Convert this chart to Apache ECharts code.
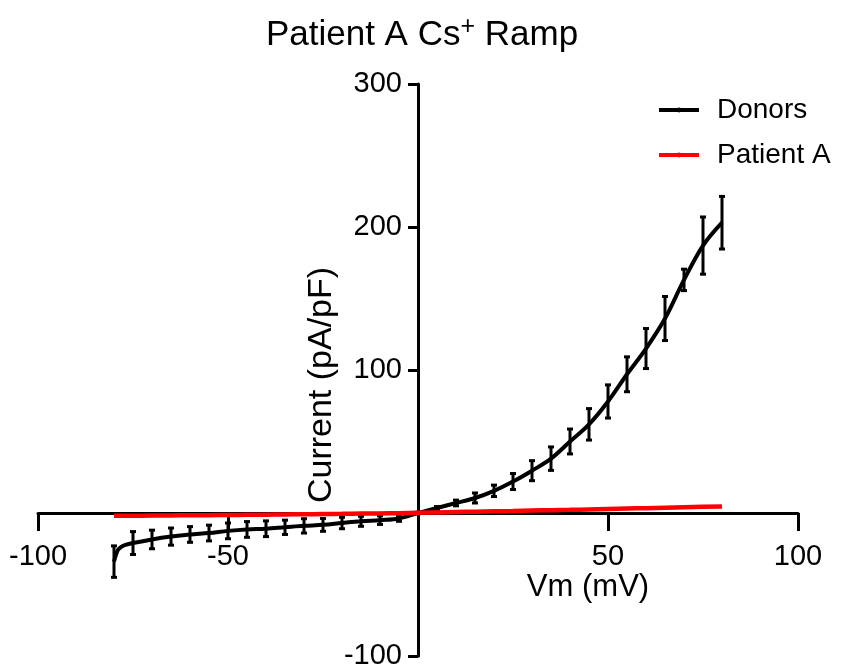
<!DOCTYPE html>
<html>
<head>
<meta charset="utf-8">
<script src="https://cdn.jsdelivr.net/npm/echarts@6/dist/echarts.min.js"></script>
<style>
html,body{margin:0;padding:0;background:#fff;}
#chart{width:844px;height:669px;}
</style>
</head>
<body>
<div id="chart"></div>
<script>
// Data (Vm in mV, current in pA/pF)
const donorsLineX = [-80, -79, -78, -77, -75, -70, -65, -60, -55, -50, -45, -40, -35, -30, -25, -20, -15, -10, -5, 0, 5, 10, 15, 20, 25, 30, 35, 40, 45, 50, 55, 60, 65, 70, 75, 80];
const donorsLineY = [-34, -26, -23.5, -22.3, -21, -18.5, -16.5, -15, -14, -12.5, -11.5, -11, -10, -9, -8.3, -7, -5.8, -5, -3.8, 0, 3.5, 7, 10.5, 15.5, 22, 29.6, 38, 50, 62, 78, 97, 115, 136, 163, 187, 203];
const errX = [-80, -75, -70, -65, -60, -55, -50, -45, -40, -35, -30, -25, -20, -15, -10, -5, 0, 5, 10, 15, 20, 25, 30, 35, 40, 45, 50, 55, 60, 65, 70, 75, 80];
const errMean = [-34, -21, -18.5, -16.5, -15, -14, -12.5, -11.5, -11, -10, -9, -8.3, -7, -5.8, -5, -3.8, 0, 3.5, 7, 10.5, 15.5, 22, 29.6, 38, 50, 62, 78, 97, 115, 136, 163, 187, 203];
const errSem = [11, 8, 6.5, 6, 5.5, 5.5, 5.5, 5.5, 5.5, 5, 5, 4.5, 4, 3.5, 3, 2, 0.5, 1, 2, 3.5, 4, 5.6, 7, 8.2, 8.7, 11, 11.6, 12.2, 14, 15.4, 7.5, 20, 18.4];
const patientX = [-80, -75, -70, -65, -60, -55, -50, -45, -40, -35, -30, -25, -20, -15, -10, -5, 0, 5, 10, 15, 20, 25, 30, 35, 40, 45, 50, 55, 60, 65, 70, 75, 80];
const patientY = [-2.0, -1.9, -1.8, -1.7, -1.6, -1.5, -1.4, -1.3, -1.2, -1.0, -0.9, -0.7, -0.6, -0.4, -0.3, -0.1, 0.2, 0.4, 0.7, 0.9, 1.2, 1.4, 1.7, 2.0, 2.2, 2.5, 2.8, 3.1, 3.4, 3.7, 4.0, 4.3, 4.6];
const xTicks = {min: -100, max: 100, interval: 50};
const yTicks = {min: -100, max: 300, interval: 100};
const seriesNames = ['Donors', 'Patient A'];
const titleText = 'Patient A Cs';
const xName = 'Vm (mV)';
const yName = 'Current (pA/pF)';

const FONT = "'Liberation Sans', Arial, Helvetica, sans-serif";
const chart = echarts.init(document.getElementById('chart'), null, {renderer: 'canvas'});

const donorsLine = donorsLineX.map((x, i) => [x, donorsLineY[i]]);
const errData = errX.map((x, i) => [x, errMean[i] - errSem[i], errMean[i] + errSem[i]]);
const patient = patientX.map((x, i) => [x, patientY[i]]);

const zeroHidden = v => (v === 0 ? '' : String(v));

// grid geometry
const G = { left: 38, right: 46, top: 84, bottom: 13 };
const plotW = 844 - G.left - G.right;   // 760
const plotH = 669 - G.top - G.bottom;   // 572
// shift axes so they cross at the origin
const yAxisShift = -plotW * (0 - xTicks.min) / (xTicks.max - xTicks.min);
const xAxisShift = -plotH * (0 - yTicks.min) / (yTicks.max - yTicks.min);

chart.setOption({
  animation: false,
  backgroundColor: '#fff',
  title: {
    text: titleText + '{sup|+} Ramp',
    left: 'center',
    top: 10,
    textStyle: {
      fontFamily: FONT, fontSize: 35, fontWeight: 'normal', color: '#000',
      rich: { sup: { fontFamily: FONT, fontSize: 25, color: '#000', verticalAlign: 'top', padding: [0, 0, 16, 0] } }
    }
  },
  legend: {
    orient: 'vertical',
    left: 652,
    top: 91,
    itemWidth: 40,
    itemHeight: 6,
    itemGap: 17,
    data: seriesNames,
    lineStyle: { width: 4 },
    textStyle: { fontFamily: FONT, fontSize: 28, color: '#000', padding: [0, 0, 0, 13] }
  },
  grid: { left: G.left, right: G.right, top: G.top, bottom: G.bottom, containLabel: false, outerBoundsMode: 'none' },
  xAxis: {
    type: 'value',
    position: 'bottom',
    offset: xAxisShift,
    min: xTicks.min, max: xTicks.max, interval: xTicks.interval,
    axisLine: { onZero: false, lineStyle: { color: '#000', width: 3 } },
    axisTick: { show: true, length: 18, lineStyle: { color: '#000', width: 3 } },
    axisLabel: { formatter: zeroHidden, fontFamily: FONT, fontSize: 29, color: '#000', margin: 29 },
    splitLine: { show: false }
  },
  yAxis: {
    type: 'value',
    position: 'left',
    offset: yAxisShift,
    min: yTicks.min, max: yTicks.max, interval: yTicks.interval,
    axisLine: { onZero: false, lineStyle: { color: '#000', width: 3 } },
    axisTick: { show: true, length: 10, lineStyle: { color: '#000', width: 3 } },
    axisLabel: { formatter: zeroHidden, fontFamily: FONT, fontSize: 29, color: '#000', margin: 16 },
    splitLine: { show: false }
  },
  graphic: [
    { type: 'text', x: 322, y: 385, rotation: Math.PI / 2,
      style: { text: yName, fontFamily: FONT, fontSize: 34, fill: '#000', textAlign: 'center', textVerticalAlign: 'middle' } },
    { type: 'text', x: 588, y: 587,
      style: { text: xName, fontFamily: FONT, fontSize: 31, fill: '#000', textAlign: 'center', textVerticalAlign: 'middle' } }
  ],
  series: [
    {
      name: 'Donors', type: 'line', data: donorsLine,
      smooth: 0.35, showSymbol: false, symbol: 'circle', symbolSize: 5,
      lineStyle: { color: '#000', width: 4 }, itemStyle: { color: '#000' }, z: 3
    },
    {
      name: 'DonorsErr', type: 'custom', data: errData, z: 4,
      renderItem: function (params, api) {
        const x = api.value(0);
        const lo = api.coord([x, api.value(1)]);
        const hi = api.coord([x, api.value(2)]);
        const w = 3;
        const st = { stroke: '#000', lineWidth: 3 };
        return { type: 'group', children: [
          { type: 'line', shape: { x1: lo[0], y1: lo[1], x2: hi[0], y2: hi[1] }, style: st },
          { type: 'line', shape: { x1: lo[0] - w, y1: lo[1], x2: lo[0] + w, y2: lo[1] }, style: st },
          { type: 'line', shape: { x1: hi[0] - w, y1: hi[1], x2: hi[0] + w, y2: hi[1] }, style: st }
        ]};
      }
    },
    {
      name: 'Patient A', type: 'line', data: patient,
      smooth: true, showSymbol: false, symbol: 'circle', symbolSize: 5,
      lineStyle: { color: '#ff0000', width: 4.5 }, itemStyle: { color: '#ff0000' }, z: 5
    }
  ]
});
</script>
</body>
</html>
